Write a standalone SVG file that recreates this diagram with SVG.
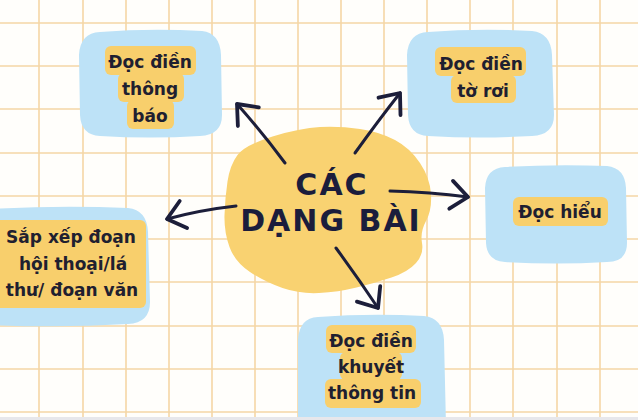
<svg xmlns="http://www.w3.org/2000/svg" width="638" height="420" viewBox="0 0 638 420">
  <defs>
    <style>
      .grid line { stroke: #f5d6a6; stroke-width: 1.6; }
      .box { fill: #bde2f7; }
      .hl { fill: #f8cf6c; }
      .lbl { font-family: "DejaVu Sans", "Noto Sans", sans-serif; font-weight: bold; font-size: 17px; fill: #1f2030; text-anchor: middle; }
      .title { font-family: "DejaVu Sans", "Noto Sans", sans-serif; font-weight: bold; font-size: 30px; letter-spacing: 2px; fill: #1b1d3c; text-anchor: middle; }
      .conn { fill: none; stroke: #1c1e3a; stroke-width: 3; stroke-linecap: round; }
    </style>
    <marker id="head" markerUnits="userSpaceOnUse" markerWidth="44" markerHeight="44" viewBox="-22 -22 44 44" refX="0" refY="0" orient="auto">
      <path d="M -17 -14 L 0 0 L -17 14" fill="none" stroke="#1c1e3a" stroke-width="3.8" stroke-linecap="round" stroke-linejoin="round"/>
    </marker>
  </defs>

  <rect x="0" y="0" width="638" height="420" fill="#fffefb"/>
  <g class="grid">
    <line x1="39" y1="0" x2="39" y2="420"/>
    <line x1="83" y1="0" x2="83" y2="420"/>
    <line x1="126" y1="0" x2="126" y2="420"/>
    <line x1="169" y1="0" x2="169" y2="420"/>
    <line x1="212" y1="0" x2="212" y2="420"/>
    <line x1="255" y1="0" x2="255" y2="420"/>
    <line x1="298" y1="0" x2="298" y2="420"/>
    <line x1="341" y1="0" x2="341" y2="420"/>
    <line x1="384" y1="0" x2="384" y2="420"/>
    <line x1="427" y1="0" x2="427" y2="420"/>
    <line x1="470" y1="0" x2="470" y2="420"/>
    <line x1="513" y1="0" x2="513" y2="420"/>
    <line x1="557" y1="0" x2="557" y2="420"/>
    <line x1="600" y1="0" x2="600" y2="420"/>
    <line x1="0" y1="23" x2="638" y2="23"/>
    <line x1="0" y1="66" x2="638" y2="66"/>
    <line x1="0" y1="109" x2="638" y2="109"/>
    <line x1="0" y1="153" x2="638" y2="153"/>
    <line x1="0" y1="196" x2="638" y2="196"/>
    <line x1="0" y1="239" x2="638" y2="239"/>
    <line x1="0" y1="282" x2="638" y2="282"/>
    <line x1="0" y1="326" x2="638" y2="326"/>
    <line x1="0" y1="369" x2="638" y2="369"/>
    <line x1="0" y1="412" x2="638" y2="412"/>
  </g>

  <g id="center">
    <path fill="#f9d271" d="M 272.5 136.5 Q 300 128 320 127 Q 340 126 360 129 Q 380 132 395 140 Q 410 148 420 163 Q 430 178 431 194 Q 432 210 426 221 Q 420 232 422 243 Q 424 254 416 263 Q 408 272 391.5 277.5 Q 375 283 356.5 287.5 Q 338 292 319 293 Q 300 294 282.5 288 Q 265 282 250 272 Q 235 262 229.5 247 Q 224 232 224.5 215 Q 225 198 227.5 181.5 Q 230 165 237.5 155 Q 245 145 272.5 136.5 Z"/>
    <text class="title" x="332" y="195">CÁC</text>
    <text class="title" x="331" y="231">DẠNG BÀI</text>
  </g>

  <g id="connectors">
    <path class="conn" d="M 285 163 Q 262 132 237 104" marker-end="url(#head)"/>
    <path class="conn" d="M 355 153 Q 378 121 400 93" marker-end="url(#head)"/>
    <path class="conn" d="M 390 191 Q 430 192 468 197" marker-end="url(#head)"/>
    <path class="conn" d="M 236 206 Q 200 210 167 219" marker-end="url(#head)"/>
    <path class="conn" d="M 336 248 Q 358 278 378 308" marker-end="url(#head)"/>
  </g>

  <g id="node-thong-bao">
    <path class="box" d="M 100 32 Q 150 28 202 31 Q 220 33 221 55 L 222 115 Q 222 135 200 136 Q 150 139 100 136 Q 81 135 80 115 L 79 55 Q 80 33 100 32 Z"/>
    <rect class="hl" x="105" y="46" width="91" height="29" rx="6"/>
    <rect class="hl" x="118" y="73" width="66" height="29" rx="6"/>
    <rect class="hl" x="127" y="100" width="47" height="29" rx="6"/>
    <text class="lbl" x="150" y="68">Đọc điền</text>
    <text class="lbl" x="150" y="95">thông</text>
    <text class="lbl" x="150" y="122">báo</text>
  </g>

  <g id="node-to-roi">
    <path class="box" d="M 428 32 Q 480 28 532 31 Q 551 33 552 55 L 554 115 Q 554 135 532 136 Q 480 139 428 136 Q 409 135 408 115 L 407 55 Q 408 33 428 32 Z"/>
    <rect class="hl" x="435" y="47" width="91" height="29" rx="6"/>
    <rect class="hl" x="451" y="75" width="65" height="28" rx="6"/>
    <text class="lbl" x="481" y="70">Đọc điền</text>
    <text class="lbl" x="483" y="97">tờ rơi</text>
  </g>

  <g id="node-doc-hieu">
    <path class="box" d="M 505 167 Q 555 164 607 166 Q 625 168 626 188 L 627 243 Q 627 262 607 262 Q 555 265 505 262 Q 487 261 486 243 L 485 188 Q 486 168 505 167 Z"/>
    <rect class="hl" x="513" y="197" width="95" height="29" rx="6"/>
    <text class="lbl" x="560" y="218">Đọc hiểu</text>
  </g>

  <g id="node-sap-xep">
    <path class="box" d="M -10 209 Q 60 205 128 208 Q 147 210 148 232 L 150 302 Q 150 323 128 324 Q 60 328 -10 325 Z"/>
    <rect class="hl" x="-6" y="220" width="152" height="88" rx="6"/>
    <text class="lbl" x="71" y="243">Sắp xếp đoạn</text>
    <text class="lbl" x="73" y="270">hội thoại/lá</text>
    <text class="lbl" x="72" y="296">thư/ đoạn văn</text>
  </g>

  <g id="node-khuyet">
    <path class="box" d="M 318 317 Q 370 313 424 316 Q 443 318 444 340 L 446 425 L 298 425 L 298 340 Q 299 318 318 317 Z"/>
    <rect class="hl" x="326" y="325" width="90" height="28" rx="6"/>
    <rect class="hl" x="340" y="352" width="62" height="28" rx="6"/>
    <rect class="hl" x="325" y="379" width="96" height="29" rx="6"/>
    <text class="lbl" x="371" y="347">Đọc điền</text>
    <text class="lbl" x="371" y="373">khuyết</text>
    <text class="lbl" x="372" y="399">thông tin</text>
  </g>

  <rect x="0" y="417" width="638" height="3" fill="#e7e7eb"/>
</svg>
